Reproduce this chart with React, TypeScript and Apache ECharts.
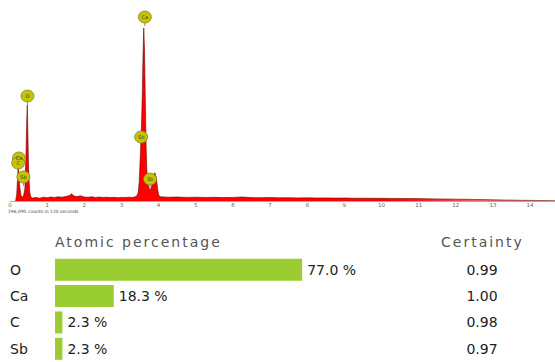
import React, { useEffect, useRef } from "react";
import * as echarts from "echarts";

// Spectrum (energy in keV, counts in arbitrary units)
const energyKeV = [
  0.15, 0.18, 0.2, 0.22, 0.24, 0.27, 0.3, 0.32, 0.36, 0.4, 0.43, 0.45, 0.466, 0.48, 0.5, 0.53, 0.56,
  0.6, 0.7, 0.8, 0.9, 1.0, 1.1, 1.2, 1.3, 1.4, 1.5, 1.6, 1.66, 1.72, 1.8, 1.9, 2.0, 2.1, 2.2, 2.3,
  2.4, 2.5, 2.6, 2.7, 2.8, 2.9, 3.0, 3.1, 3.2, 3.3, 3.4, 3.45, 3.48, 3.5, 3.52, 3.54, 3.56, 3.58, 3.6,
  3.62, 3.64, 3.66, 3.68, 3.71, 3.74, 3.78, 3.81, 3.85, 3.9, 3.94, 3.97, 4.0, 4.05, 4.25, 4.5, 4.75,
  5.0, 5.25, 5.5, 5.75, 6.0, 6.25, 6.5, 6.75, 7.0, 7.25, 7.5, 7.75, 8.0, 8.25, 8.5, 8.75, 9.0, 9.25,
  9.5, 9.75, 10.0, 10.25, 10.5, 10.75, 11.0, 11.25, 11.5, 11.75, 12.0, 12.25, 12.5, 12.75, 13.0,
  13.25, 13.5, 13.75, 14.0, 14.25, 14.5, 14.67,
];
const counts = [
  0, 60, 200, 330, 250, 120, 50, 40, 45, 120, 450, 800, 960, 700, 320, 90, 40,
  30, 35, 28, 38, 33, 40, 36, 42, 38, 45, 55, 73, 50, 44, 52, 40, 38, 42, 36,
  40, 35, 38, 34, 37, 33, 36, 34, 38, 36, 45, 80, 200, 380, 560, 760, 1050, 1450, 1730,
  1520, 1050, 600, 330, 170, 130, 110, 140, 230, 283, 230, 130, 60, 42, 38, 40, 36,
  38, 35, 37, 34, 36, 40, 34, 33, 35, 32, 33, 31, 32, 30, 31, 29, 30, 28,
  28, 27, 27, 26, 25, 24, 24, 22, 21, 20, 18, 17, 15, 14, 12,
  10, 9, 7, 6, 5, 4, 3,
];

// Peak identification markers
const peakNames = ["Ca", "O", "Ca", "C", "Sb", "Sb", "Sb"];
const peakKeV = [3.63, 0.47, 0.24, 0.22, 0.36, 3.53, 3.77];
const peakMarkerCounts = [1840, 1050, 430, 380, 240, 640, 220];

// Quantification table
const elements = ["O", "Ca", "C", "Sb"];
const atomicPercent = [77.0, 18.3, 2.3, 2.3];
const certainty = [0.99, 1.0, 0.98, 0.97];

const FONT = "DejaVu Sans";
const SPACED = ["Atomic percentage", "Certainty"];

export default function App() {
  const ref = useRef<HTMLDivElement>(null);

  useEffect(() => {
    if (!ref.current) return;
    const chart = echarts.init(ref.current, null, { renderer: "svg" });

    const spectrum = energyKeV.map((e, i) => [e, counts[i]]);
    const markers = peakKeV.map((e, i) => ({ value: [e, peakMarkerCounts[i]], name: peakNames[i] }));
    const stems: any[] = [];
    peakKeV.forEach((e, i) => {
      stems.push([e, peakMarkerCounts[i]]);
      stems.push([e, peakMarkerCounts[i] - 90]);
      stems.push([e, null]);
    });

    chart.setOption({
      animation: false,
      backgroundColor: "#ffffff",
      grid: [
        { left: 10, right: 0, top: 1, height: 200 },
        { left: 55, top: 256.5, width: 321, height: 108 },
      ],
      xAxis: [
        {
          type: "value",
          gridIndex: 0,
          min: 0,
          max: 14.67,
          interval: 1,
          axisLine: { show: true, lineStyle: { color: "#aaaaaa", width: 1 } },
          axisTick: { show: false },
          splitLine: { show: false },
          axisLabel: { fontSize: 5.5, color: "#666", margin: 1, showMaxLabel: false, fontFamily: FONT },
        },
        { type: "value", gridIndex: 1, min: 0, max: 100, show: false },
      ],
      yAxis: [
        { type: "value", gridIndex: 0, min: 0, max: 2000, show: false },
        {
          type: "category",
          gridIndex: 1,
          inverse: true,
          data: elements,
          axisLine: { show: false },
          axisTick: { show: false },
          axisLabel: { align: "left", margin: 45, fontSize: 14, color: "#222", fontFamily: FONT },
        },
        {
          type: "category",
          gridIndex: 1,
          inverse: true,
          position: "right",
          data: certainty.map((c) => c.toFixed(2)),
          axisLine: { show: false },
          axisTick: { show: false },
          axisLabel: { align: "center", margin: 106, fontSize: 14, color: "#222", fontFamily: FONT },
        },
      ],
      series: [
        {
          type: "line",
          xAxisIndex: 0,
          yAxisIndex: 0,
          data: spectrum,
          symbol: "none",
          lineStyle: { color: "#6a0000", width: 0.6 },
          areaStyle: {
            opacity: 1,
            color: {
              type: "linear",
              x: 0,
              y: 0,
              x2: 1,
              y2: 0,
              colorStops: [
                { offset: 0, color: "#ff0000" },
                { offset: 0.7, color: "#ff0000" },
                { offset: 1, color: "#d8b0b0" },
              ],
            },
          },
          z: 2,
        },
        {
          type: "line",
          xAxisIndex: 0,
          yAxisIndex: 0,
          data: stems,
          symbol: "none",
          connectNulls: false,
          lineStyle: { color: "#444", width: 0.6 },
          z: 3,
        },
        {
          type: "scatter",
          xAxisIndex: 0,
          yAxisIndex: 0,
          data: markers,
          symbol: "circle",
          symbolSize: [13, 12],
          itemStyle: { color: "#c4c400", borderColor: "#7a7a30", borderWidth: 0.7, opacity: 1 },
          label: {
            show: true,
            position: "inside",
            formatter: (p: any) => p.name,
            fontSize: 5,
            color: "#333",
            fontFamily: FONT,
          },
          z: 4,
        },
        {
          type: "bar",
          xAxisIndex: 1,
          yAxisIndex: 1,
          data: atomicPercent,
          barWidth: 22,
          itemStyle: { color: "#9acd32" },
          label: {
            show: true,
            position: "right",
            distance: 5,
            formatter: (p: any) => Number(p.value).toFixed(1) + " %",
            fontSize: 14,
            color: "#222",
            fontFamily: FONT,
          },
        },
      ],
      graphic: [
        {
          type: "text",
          left: 8,
          top: 209,
          style: { text: "196,095 counts in 120 seconds", fontSize: 4.5, fill: "#444", fontFamily: FONT },
        },
        {
          type: "text",
          left: 55,
          top: 235,
          style: { text: "Atomic percentage", fontSize: 14, fill: "#555", fontFamily: FONT },
        },
        {
          type: "text",
          left: 441,
          top: 235,
          style: { text: "Certainty", fontSize: 14, fill: "#555", fontFamily: FONT },
        },
      ],
    });

    ref.current.querySelectorAll("text").forEach((t) => {
      if (SPACED.includes((t.textContent || "").trim())) {
        t.setAttribute("letter-spacing", "2");
      }
    });

    return () => chart.dispose();
  }, []);

  return (
    <div
      ref={ref}
      style={{ position: "fixed", left: 0, top: 0, width: 555, height: 362, background: "#fff" }}
    />
  );
}
